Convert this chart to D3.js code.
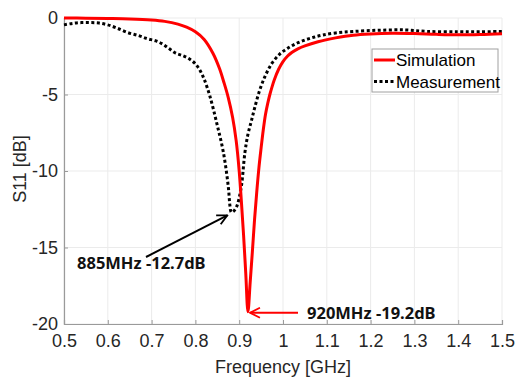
<!DOCTYPE html>
<html><head><meta charset="utf-8">
<script src="https://cdn.jsdelivr.net/npm/d3@7"></script>
<style>body{margin:0;background:#fff;} svg{display:block;}</style>
</head><body>
<script>
const simFreq = [0.5,0.55,0.6,0.65,0.7,0.73,0.76,0.78,0.8,0.82,0.84,0.855,0.865,0.875,0.885,0.893,0.9,0.905,0.91,0.915,0.92,0.925,0.93,0.935,0.94,0.945,0.95,0.955,0.96,0.965,0.97,0.975,0.98,0.99,1.0,1.01,1.02,1.035,1.05,1.08,1.12,1.16,1.2,1.25,1.3,1.35,1.4,1.45,1.5];
const simS11 = [0,-0.01,-0.03,-0.06,-0.13,-0.22,-0.4,-0.6,-0.9,-1.4,-2.3,-3.3,-4.2,-5.2,-6.5,-8,-10,-12,-14.2,-16.7,-19.2,-17.3,-15.3,-13.2,-11.4,-9.8,-8.5,-7.3,-6.3,-5.6,-5.0,-4.5,-4.05,-3.35,-2.85,-2.5,-2.25,-2.0,-1.82,-1.55,-1.3,-1.12,-1.04,-1.0,-1.02,-1.07,-1.1,-1.08,-1.03];
const measFreq = [0.5,0.52,0.54,0.56,0.58,0.6,0.62,0.645,0.67,0.69,0.71,0.725,0.74,0.755,0.77,0.785,0.8,0.81,0.82,0.833,0.849,0.864,0.875,0.879,0.882,0.888,0.893,0.897,0.905,0.913,0.92,0.928,0.936,0.947,0.96,0.975,0.993,1.011,1.03,1.05,1.07,1.09,1.12,1.16,1.22,1.28,1.33,1.4,1.45,1.5];
const measS11 = [-0.45,-0.35,-0.3,-0.3,-0.33,-0.45,-0.65,-0.95,-1.15,-1.35,-1.5,-1.7,-2.0,-2.3,-2.45,-2.65,-3.0,-3.4,-4.0,-5.1,-6.9,-8.8,-11,-12.3,-12.7,-12.6,-12.4,-12.1,-11,-8.8,-7.6,-6.7,-5.8,-4.7,-3.75,-2.95,-2.35,-1.97,-1.67,-1.44,-1.26,-1.12,-0.98,-0.88,-0.8,-0.78,-0.88,-0.9,-0.9,-0.88];
const xTicks = [0.5,0.6,0.7,0.8,0.9,1,1.1,1.2,1.3,1.4,1.5];
const yTicks = [0,-5,-10,-15,-20];
const seriesNames = ["Simulation","Measurement"];
const annotations = [
  {label:"885MHz -12.7dB", f:0.882, v:-12.7},
  {label:"920MHz -19.2dB", f:0.92, v:-19.2}
];

const W=515,H=380;
const m={l:64,r:13,t:18,b:56};
const svg=d3.select("body").append("svg").attr("width",W).attr("height",H);
const x=d3.scaleLinear().domain([0.5,1.5]).range([m.l,W-m.r]);
const y=d3.scaleLinear().domain([-20,0]).range([H-m.b,m.t]);
const font="'Liberation Sans', Arial, sans-serif";

// grid
svg.append("g").selectAll("line").data(xTicks).join("line")
  .attr("x1",d=>x(d)).attr("x2",d=>x(d)).attr("y1",y(0)).attr("y2",y(-20))
  .attr("stroke","#ebebeb").attr("stroke-width",1);
svg.append("g").selectAll("line").data(yTicks).join("line")
  .attr("x1",x(0.5)).attr("x2",x(1.5)).attr("y1",d=>y(d)).attr("y2",d=>y(d))
  .attr("stroke","#ebebeb").attr("stroke-width",1);

// axes
const xAxis=svg.append("g").attr("transform",`translate(0,${y(-20)})`)
  .call(d3.axisBottom(x).tickValues(xTicks).tickSize(-4).tickPadding(10).tickFormat(d=>String(d)));
const yAxis=svg.append("g").attr("transform",`translate(${x(0.5)},0)`)
  .call(d3.axisLeft(y).tickValues(yTicks).tickSize(-4).tickPadding(6).tickFormat(d=>d===0?"0":String(d)));
[xAxis,yAxis].forEach(g=>{
  g.select(".domain").attr("stroke","#9a9a9a").attr("stroke-width",1.2);
  g.selectAll(".tick line").attr("stroke","#9a9a9a");
  g.selectAll(".tick text").attr("fill","#262626").style("font-family",font).style("font-size","18px");
});
xAxis.selectAll(".tick text").attr("dy","0.71em");

// labels
svg.append("text").attr("x",(x(0.5)+x(1.5))/2).attr("y",373).attr("text-anchor","middle")
  .style("font-family",font).style("font-size","18px").attr("fill","#262626").text("Frequency [GHz]");
svg.append("text").attr("transform",`translate(26,169) rotate(-90)`).attr("text-anchor","middle")
  .style("font-family",font).style("font-size","18px").attr("fill","#262626").text("S11 [dB]");

// lines
const sim=simFreq.map((f,i)=>[f,simS11[i]]);
const meas=measFreq.map((f,i)=>[f,measS11[i]]);
const line=d3.line().x(d=>x(d[0])).y(d=>y(d[1])).curve(d3.curveCatmullRom.alpha(0.5));
svg.append("path").datum(meas).attr("d",line).attr("fill","none")
  .attr("stroke","#000").attr("stroke-width",3).attr("stroke-dasharray","3,2.5");
svg.append("path").datum(sim).attr("d",line).attr("fill","none")
  .attr("stroke","#ff0000").attr("stroke-width",3);

// legend
const lg=svg.append("g");
lg.append("rect").attr("x",372).attr("y",49).attr("width",126).attr("height",43)
  .attr("fill","#fff").attr("stroke","#a0a0a0").attr("stroke-width",1);
lg.append("line").attr("x1",374).attr("x2",395).attr("y1",60).attr("y2",60).attr("stroke","#ff0000").attr("stroke-width",3);
lg.append("line").attr("x1",374).attr("x2",395).attr("y1",81.5).attr("y2",81.5).attr("stroke","#000").attr("stroke-width",3).attr("stroke-dasharray","3,2.5");
lg.selectAll("text").data(seriesNames).join("text")
  .attr("x",396).attr("y",(d,i)=>66+i*21.5)
  .style("font-family",font).style("font-size","17px").attr("fill","#000").text(d=>d);

// annotations
const defs=svg.append("defs");
function marker(id,color){
  defs.append("marker").attr("id",id).attr("viewBox","0 0 12 12").attr("refX",11).attr("refY",6)
    .attr("markerWidth",12).attr("markerHeight",12).attr("markerUnits","userSpaceOnUse").attr("orient","auto")
    .append("path").attr("d","M1,1 L11,6 L1,11").attr("fill","none").attr("stroke",color).attr("stroke-width",1.8);
}
marker("ah-black","#000");
marker("ah-red","#ff0000");
const a0=annotations[0], a1=annotations[1];
const annFont="'Noto Sans', 'Open Sans', sans-serif";
svg.append("line").attr("x1",146).attr("y1",257).attr("x2",x(a0.f)-4).attr("y2",y(a0.v)+3)
  .attr("stroke","#000").attr("stroke-width",2).attr("marker-end","url(#ah-black)");
svg.append("text").attr("x",77).attr("y",269).style("font-family",annFont)
  .style("font-size","16.5px").style("font-weight","bold").attr("fill","#111").text(a0.label);
svg.append("line").attr("x1",298).attr("y1",y(a1.v)+1).attr("x2",x(a1.f)+2).attr("y2",y(a1.v)+1)
  .attr("stroke","#ff0000").attr("stroke-width",2).attr("marker-end","url(#ah-red)");
svg.append("text").attr("x",307).attr("y",319).style("font-family",annFont)
  .style("font-size","16.5px").style("font-weight","bold").attr("fill","#111").text(a1.label);
</script>
</body></html>
